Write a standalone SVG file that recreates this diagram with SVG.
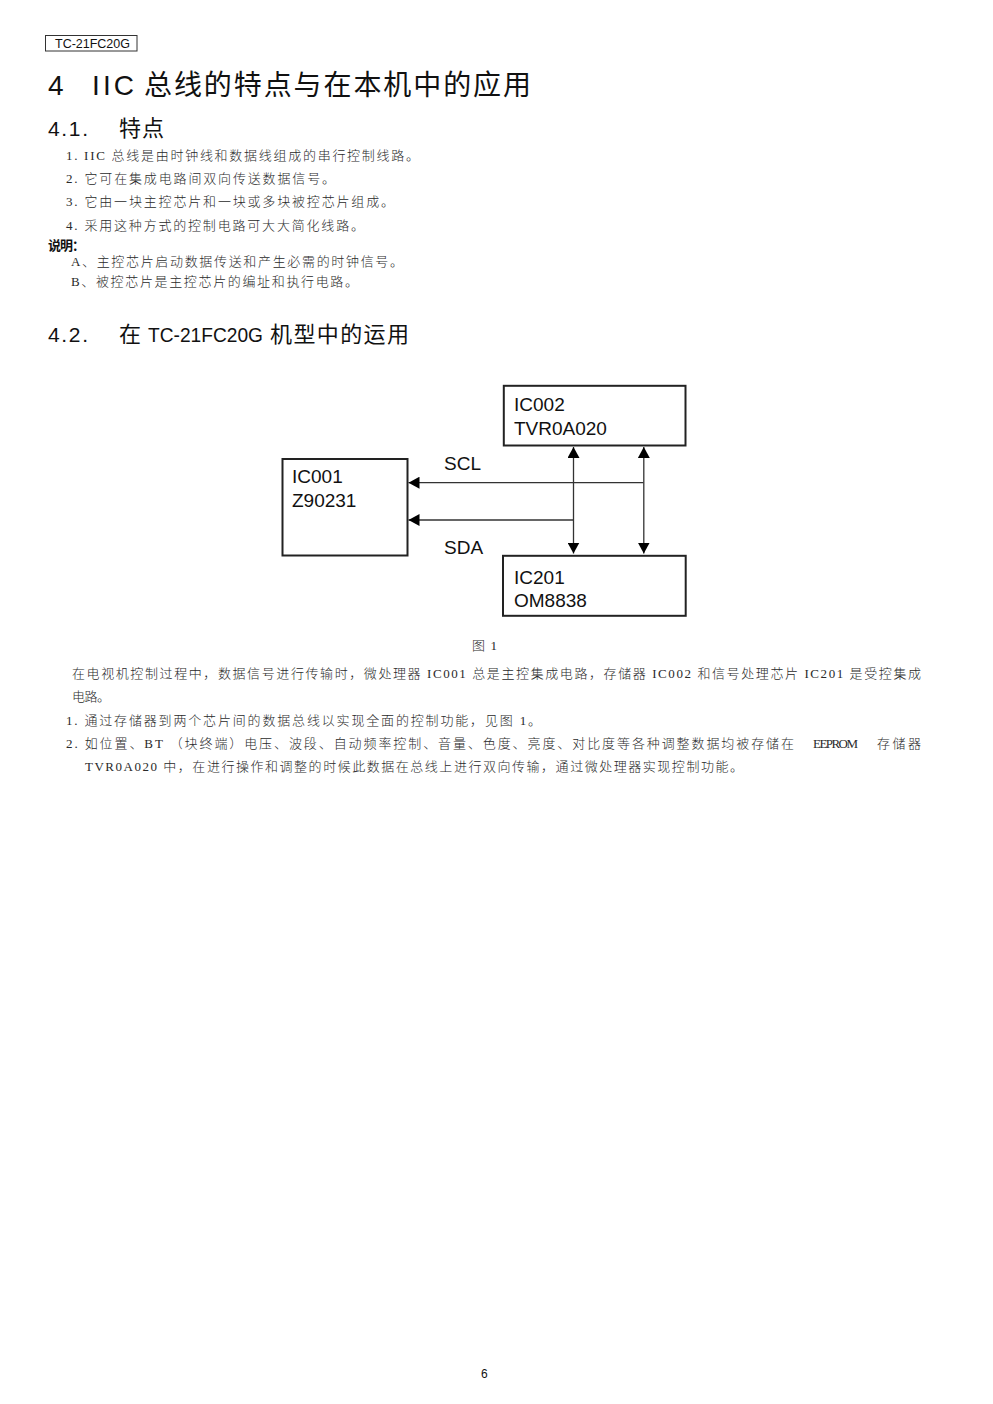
<svg xmlns="http://www.w3.org/2000/svg" width="993" height="1404" viewBox="0 0 993 1404">
<style>
text{fill:#1c1c1c}
.b{font-family:"Liberation Serif","Noto Sans CJK SC",serif;font-size:13px;fill:#2a2a2a;font-weight:300}
.h{font-family:"Liberation Sans","Noto Sans CJK SC",sans-serif;fill:#111}
.t{font-family:"Liberation Sans",Arial,sans-serif;font-size:19px;fill:#111}
.box{fill:#fff;stroke:#222;stroke-width:2}
.c{fill:none;stroke:#333;stroke-width:1.3}
</style>
<defs>
<marker id="arr" markerUnits="userSpaceOnUse" markerWidth="12" markerHeight="12" refX="11" refY="6" orient="auto-start-reverse"><path d="M0 0L11 6L0 12Z" fill="#000"/></marker>
</defs>
<rect width="993" height="1404" fill="#fff"/>
<g id="header">
<rect x="45.5" y="35.5" width="91.5" height="15.5" fill="none" stroke="#333" stroke-width="1"/>
<text class="h" x="55" y="48" font-size="12" textLength="75" lengthAdjust="spacingAndGlyphs">TC-21FC20G</text>
</g>
<g id="headings">
<text class="h" x="48" y="95" font-size="28">4</text>
<text class="h" x="92" y="95" font-size="28" textLength="42" lengthAdjust="spacing">IIC</text>
<text class="h" x="144" y="95" font-size="28" textLength="387" lengthAdjust="spacing">总线的特点与在本机中的应用</text>
<text class="h" x="48" y="136" font-size="21" textLength="40" lengthAdjust="spacing">4.1.</text>
<text class="h" x="119" y="136" font-size="22" textLength="45" lengthAdjust="spacing">特点</text>
<text class="h" x="48" y="342" font-size="21" textLength="40" lengthAdjust="spacing">4.2.</text>
<text class="h" x="119" y="342" font-size="22">在</text>
<text class="h" x="148" y="342" font-size="21" textLength="115" lengthAdjust="spacingAndGlyphs">TC-21FC20G</text>
<text class="h" x="270" y="342" font-size="22" textLength="139" lengthAdjust="spacing">机型中的运用</text>
</g>
<g id="features">
<text class="b" x="66" y="160" textLength="353" lengthAdjust="spacing">1. IIC 总线是由时钟线和数据线组成的串行控制线路。</text>
<text class="b" x="66" y="183" textLength="269" lengthAdjust="spacing">2. 它可在集成电路间双向传送数据信号。</text>
<text class="b" x="66" y="206" textLength="328" lengthAdjust="spacing">3. 它由一块主控芯片和一块或多块被控芯片组成。</text>
<text class="b" x="66" y="230" textLength="298" lengthAdjust="spacing">4. 采用这种方式的控制电路可大大简化线路。</text>
<text class="h" x="48" y="250" font-size="13" font-weight="700" textLength="37" lengthAdjust="spacing">说明：</text>
<text class="b" x="71" y="266" textLength="332" lengthAdjust="spacing">A、主控芯片启动数据传送和产生必需的时钟信号。</text>
<text class="b" x="71" y="286" textLength="287" lengthAdjust="spacing">B、被控芯片是主控芯片的编址和执行电路。</text>
</g>
<g id="connectors">
<path class="c" d="M643.5 482.7H408.5" marker-end="url(#arr)"/>
<path class="c" d="M573.5 520H408.5" marker-end="url(#arr)"/>
<path class="c" d="M573.5 553.5V447" marker-start="url(#arr)" marker-end="url(#arr)"/>
<path class="c" d="M643.8 553.5V447" marker-start="url(#arr)" marker-end="url(#arr)"/>
</g>
<g id="IC001">
<rect class="box" x="282.5" y="459" width="125" height="96.5"/>
<text class="t" x="292" y="483">IC001</text>
<text class="t" x="292" y="507">Z90231</text>
</g>
<g id="IC002">
<rect class="box" x="503.8" y="385.8" width="181.7" height="59.7"/>
<text class="t" x="514" y="411">IC002</text>
<text class="t" x="514" y="435">TVR0A020</text>
</g>
<g id="IC201">
<rect class="box" x="503" y="555.8" width="182.7" height="60"/>
<text class="t" x="514" y="584">IC201</text>
<text class="t" x="514" y="607">OM8838</text>
</g>
<g id="bus-labels">
<text class="t" x="444" y="470" font-size="18">SCL</text>
<text class="t" x="444" y="554" font-size="18">SDA</text>
</g>
<g id="body">
<text class="b" x="472" y="650" textLength="25" lengthAdjust="spacing">图 1</text>
<text class="b" x="72" y="678" textLength="849" lengthAdjust="spacing">在电视机控制过程中，数据信号进行传输时，微处理器 IC001 总是主控集成电路，存储器 IC002 和信号处理芯片 IC201 是受控集成</text>
<text class="b" x="72" y="701" textLength="38" lengthAdjust="spacing">电路。</text>
<text class="b" x="66" y="725" textLength="475" lengthAdjust="spacing">1. 通过存储器到两个芯片间的数据总线以实现全面的控制功能，见图 1。</text>
<text class="b" x="66" y="748" textLength="728" lengthAdjust="spacing">2. 如位置、BT （块终端）电压、波段、自动频率控制、音量、色度、亮度、对比度等各种调整数据均被存储在</text>
<text class="b" x="813" y="748" textLength="45" lengthAdjust="spacing">EEPROM</text>
<text class="b" x="877" y="748" textLength="44" lengthAdjust="spacing">存储器</text>
<text class="b" x="85" y="771" textLength="658" lengthAdjust="spacing">TVR0A020 中，在进行操作和调整的时候此数据在总线上进行双向传输，通过微处理器实现控制功能。</text>
</g>
<g id="footer">
<text class="h" x="481" y="1378" font-size="12">6</text>
</g>
</svg>
